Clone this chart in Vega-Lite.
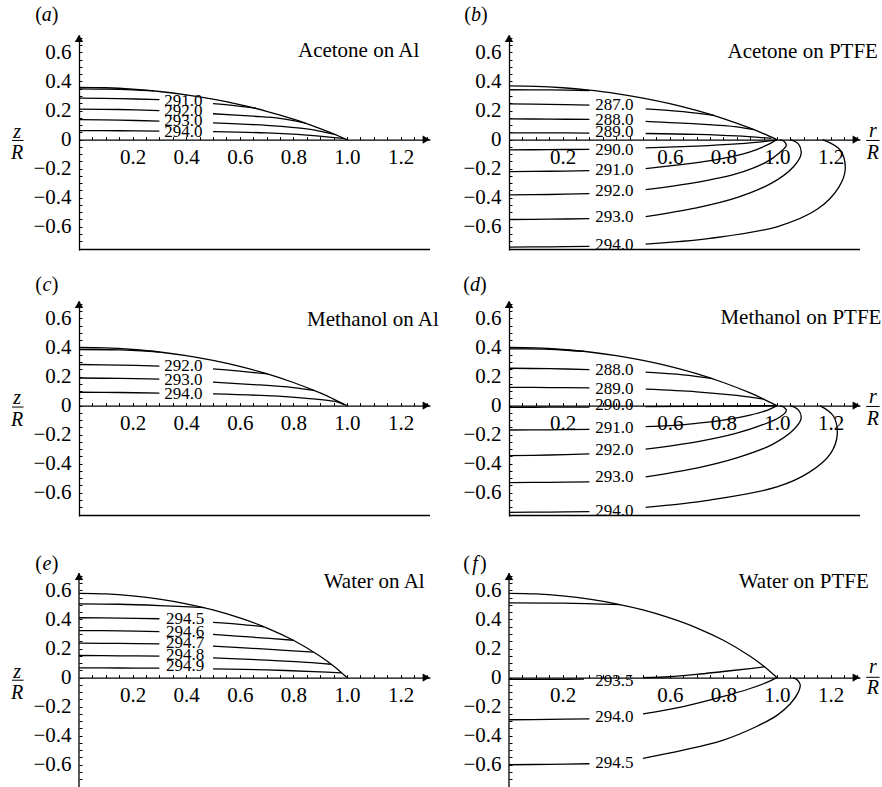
{
"$schema": "https://vega.github.io/schema/vega-lite/v6.json",
"padding": {"left": 10, "top": 5, "right": 0, "bottom": 0},
"config": {
 "view": {"stroke": null},
 "axis": {"domainColor": "black", "domainWidth": 1.3, "tickColor": "black", "tickWidth": 1, "tickSize": -3, "labelFont": "Liberation Serif", "labelFontSize": 21, "labelColor": "black", "grid": false, "labelOverlap": false, "labelBound": false, "labelFlush": false},
 "text": {"font": "Liberation Serif", "color": "black"}
},
"datasets": {
"lines": [
{"p":"a","c":"s","i":0,"r":0,"z":0.36},{"p":"a","c":"s","i":1,"r":0.1,"z":0.357},{"p":"a","c":"s","i":2,"r":0.2,"z":0.347},{"p":"a","c":"s","i":3,"r":0.3,"z":0.331},{"p":"a","c":"s","i":4,"r":0.4,"z":0.308},{"p":"a","c":"s","i":5,"r":0.5,"z":0.278},{"p":"a","c":"s","i":6,"r":0.6,"z":0.241},{"p":"a","c":"s","i":7,"r":0.7,"z":0.195},{"p":"a","c":"s","i":8,"r":0.8,"z":0.141},{"p":"a","c":"s","i":9,"r":0.9,"z":0.076},{"p":"a","c":"s","i":10,"r":0.95,"z":0.04},{"p":"a","c":"s","i":11,"r":1,"z":0},
{"p":"a","c":"t0","i":0,"r":0,"z":0.349},{"p":"a","c":"t0","i":1,"r":0.1,"z":0.347},{"p":"a","c":"t0","i":2,"r":0.2,"z":0.342},{"p":"a","c":"t0","i":3,"r":0.28,"z":0.335},
{"p":"a","c":"291L","i":0,"r":0,"z":0.285},{"p":"a","c":"291L","i":1,"r":0.15,"z":0.282},{"p":"a","c":"291L","i":2,"r":0.3,"z":0.275},
{"p":"a","c":"291R","i":0,"r":0.5,"z":0.247},{"p":"a","c":"291R","i":1,"r":0.58,"z":0.234},{"p":"a","c":"291R","i":2,"r":0.66,"z":0.217},
{"p":"a","c":"292L","i":0,"r":0,"z":0.21},{"p":"a","c":"292L","i":1,"r":0.15,"z":0.207},{"p":"a","c":"292L","i":2,"r":0.3,"z":0.2},
{"p":"a","c":"292R","i":0,"r":0.5,"z":0.178},{"p":"a","c":"292R","i":1,"r":0.65,"z":0.161},{"p":"a","c":"292R","i":2,"r":0.75,"z":0.146},{"p":"a","c":"292R","i":3,"r":0.845,"z":0.114},
{"p":"a","c":"293L","i":0,"r":0,"z":0.138},{"p":"a","c":"293L","i":1,"r":0.15,"z":0.134},{"p":"a","c":"293L","i":2,"r":0.3,"z":0.127},
{"p":"a","c":"293R","i":0,"r":0.5,"z":0.115},{"p":"a","c":"293R","i":1,"r":0.7,"z":0.098},{"p":"a","c":"293R","i":2,"r":0.85,"z":0.074},{"p":"a","c":"293R","i":3,"r":0.95,"z":0.038},
{"p":"a","c":"294L","i":0,"r":0,"z":0.062},{"p":"a","c":"294L","i":1,"r":0.15,"z":0.061},{"p":"a","c":"294L","i":2,"r":0.3,"z":0.058},
{"p":"a","c":"294R","i":0,"r":0.5,"z":0.055},{"p":"a","c":"294R","i":1,"r":0.7,"z":0.046},{"p":"a","c":"294R","i":2,"r":0.85,"z":0.031},{"p":"a","c":"294R","i":3,"r":0.985,"z":0.008},

{"p":"b","c":"s","i":0,"r":0,"z":0.37},{"p":"b","c":"s","i":1,"r":0.1,"z":0.367},{"p":"b","c":"s","i":2,"r":0.2,"z":0.357},{"p":"b","c":"s","i":3,"r":0.3,"z":0.34},{"p":"b","c":"s","i":4,"r":0.4,"z":0.317},{"p":"b","c":"s","i":5,"r":0.5,"z":0.286},{"p":"b","c":"s","i":6,"r":0.6,"z":0.248},{"p":"b","c":"s","i":7,"r":0.7,"z":0.201},{"p":"b","c":"s","i":8,"r":0.8,"z":0.145},{"p":"b","c":"s","i":9,"r":0.9,"z":0.079},{"p":"b","c":"s","i":10,"r":0.95,"z":0.041},{"p":"b","c":"s","i":11,"r":1,"z":0},
{"p":"b","c":"t0","i":0,"r":0,"z":0.343},{"p":"b","c":"t0","i":1,"r":0.15,"z":0.342},{"p":"b","c":"t0","i":2,"r":0.3,"z":0.338},
{"p":"b","c":"287L","i":0,"r":0,"z":0.246},{"p":"b","c":"287L","i":1,"r":0.15,"z":0.243},{"p":"b","c":"287L","i":2,"r":0.3,"z":0.237},
{"p":"b","c":"287R","i":0,"r":0.51,"z":0.212},{"p":"b","c":"287R","i":1,"r":0.65,"z":0.192},{"p":"b","c":"287R","i":2,"r":0.765,"z":0.166},
{"p":"b","c":"288L","i":0,"r":0,"z":0.143},{"p":"b","c":"288L","i":1,"r":0.15,"z":0.141},{"p":"b","c":"288L","i":2,"r":0.3,"z":0.139},
{"p":"b","c":"288R","i":0,"r":0.51,"z":0.126},{"p":"b","c":"288R","i":1,"r":0.7,"z":0.108},{"p":"b","c":"288R","i":2,"r":0.85,"z":0.088},{"p":"b","c":"288R","i":3,"r":0.915,"z":0.068},
{"p":"b","c":"289L","i":0,"r":0,"z":0.046},{"p":"b","c":"289L","i":1,"r":0.15,"z":0.046},{"p":"b","c":"289L","i":2,"r":0.3,"z":0.045},
{"p":"b","c":"289R","i":0,"r":0.51,"z":0.042},{"p":"b","c":"289R","i":1,"r":0.7,"z":0.036},{"p":"b","c":"289R","i":2,"r":0.85,"z":0.025},{"p":"b","c":"289R","i":3,"r":0.98,"z":0.008},
{"p":"b","c":"290L","i":0,"r":0,"z":-0.071},{"p":"b","c":"290L","i":1,"r":0.15,"z":-0.069},{"p":"b","c":"290L","i":2,"r":0.3,"z":-0.067},
{"p":"b","c":"290R","i":0,"r":0.51,"z":-0.057},{"p":"b","c":"290R","i":1,"r":0.7,"z":-0.045},{"p":"b","c":"290R","i":2,"r":0.85,"z":-0.03},{"p":"b","c":"290R","i":3,"r":0.95,"z":-0.014},{"p":"b","c":"290R","i":4,"r":1,"z":0},
{"p":"b","c":"291L","i":0,"r":0,"z":-0.22},{"p":"b","c":"291L","i":1,"r":0.15,"z":-0.218},{"p":"b","c":"291L","i":2,"r":0.3,"z":-0.214},
{"p":"b","c":"291R","i":0,"r":0.51,"z":-0.2},{"p":"b","c":"291R","i":1,"r":0.65,"z":-0.17},{"p":"b","c":"291R","i":2,"r":0.77,"z":-0.14},{"p":"b","c":"291R","i":3,"r":0.9,"z":-0.085},{"p":"b","c":"291R","i":4,"r":0.96,"z":-0.04},{"p":"b","c":"291R","i":5,"r":1,"z":0},
{"p":"b","c":"292L","i":0,"r":0,"z":-0.38},{"p":"b","c":"292L","i":1,"r":0.15,"z":-0.378},{"p":"b","c":"292L","i":2,"r":0.3,"z":-0.372},
{"p":"b","c":"292R","i":0,"r":0.51,"z":-0.345},{"p":"b","c":"292R","i":1,"r":0.7,"z":-0.295},{"p":"b","c":"292R","i":2,"r":0.85,"z":-0.235},{"p":"b","c":"292R","i":3,"r":0.96,"z":-0.155},{"p":"b","c":"292R","i":4,"r":1.01,"z":-0.09},{"p":"b","c":"292R","i":5,"r":1.035,"z":-0.04},{"p":"b","c":"292R","i":6,"r":1.025,"z":-0.01},{"p":"b","c":"292R","i":7,"r":1.01,"z":0},
{"p":"b","c":"293L","i":0,"r":0,"z":-0.55},{"p":"b","c":"293L","i":1,"r":0.15,"z":-0.548},{"p":"b","c":"293L","i":2,"r":0.3,"z":-0.544},
{"p":"b","c":"293R","i":0,"r":0.51,"z":-0.53},{"p":"b","c":"293R","i":1,"r":0.7,"z":-0.47},{"p":"b","c":"293R","i":2,"r":0.85,"z":-0.4},{"p":"b","c":"293R","i":3,"r":0.98,"z":-0.3},{"p":"b","c":"293R","i":4,"r":1.06,"z":-0.19},{"p":"b","c":"293R","i":5,"r":1.09,"z":-0.1},{"p":"b","c":"293R","i":6,"r":1.08,"z":-0.03},{"p":"b","c":"293R","i":7,"r":1.05,"z":0},
{"p":"b","c":"294L","i":0,"r":0,"z":-0.74},{"p":"b","c":"294L","i":1,"r":0.15,"z":-0.738},{"p":"b","c":"294L","i":2,"r":0.3,"z":-0.735},
{"p":"b","c":"294R","i":0,"r":0.51,"z":-0.72},{"p":"b","c":"294R","i":1,"r":0.75,"z":-0.68},{"p":"b","c":"294R","i":2,"r":1,"z":-0.6},{"p":"b","c":"294R","i":3,"r":1.15,"z":-0.48},{"p":"b","c":"294R","i":4,"r":1.23,"z":-0.33},{"p":"b","c":"294R","i":5,"r":1.255,"z":-0.2},{"p":"b","c":"294R","i":6,"r":1.235,"z":-0.07},{"p":"b","c":"294R","i":7,"r":1.17,"z":0},

{"p":"c","c":"s","i":0,"r":0,"z":0.4},{"p":"c","c":"s","i":1,"r":0.1,"z":0.397},{"p":"c","c":"s","i":2,"r":0.2,"z":0.386},{"p":"c","c":"s","i":3,"r":0.3,"z":0.369},{"p":"c","c":"s","i":4,"r":0.4,"z":0.344},{"p":"c","c":"s","i":5,"r":0.5,"z":0.311},{"p":"c","c":"s","i":6,"r":0.6,"z":0.27},{"p":"c","c":"s","i":7,"r":0.7,"z":0.22},{"p":"c","c":"s","i":8,"r":0.8,"z":0.159},{"p":"c","c":"s","i":9,"r":0.9,"z":0.087},{"p":"c","c":"s","i":10,"r":0.95,"z":0.045},{"p":"c","c":"s","i":11,"r":1,"z":0},
{"p":"c","c":"t0","i":0,"r":0,"z":0.386},{"p":"c","c":"t0","i":1,"r":0.15,"z":0.383},{"p":"c","c":"t0","i":2,"r":0.3,"z":0.369},
{"p":"c","c":"292L","i":0,"r":0,"z":0.283},{"p":"c","c":"292L","i":1,"r":0.15,"z":0.279},{"p":"c","c":"292L","i":2,"r":0.3,"z":0.272},
{"p":"c","c":"292R","i":0,"r":0.5,"z":0.253},{"p":"c","c":"292R","i":1,"r":0.6,"z":0.237},{"p":"c","c":"292R","i":2,"r":0.705,"z":0.218},
{"p":"c","c":"293L","i":0,"r":0,"z":0.19},{"p":"c","c":"293L","i":1,"r":0.15,"z":0.187},{"p":"c","c":"293L","i":2,"r":0.3,"z":0.182},
{"p":"c","c":"293R","i":0,"r":0.5,"z":0.161},{"p":"c","c":"293R","i":1,"r":0.65,"z":0.145},{"p":"c","c":"293R","i":2,"r":0.8,"z":0.124},{"p":"c","c":"293R","i":3,"r":0.88,"z":0.103},
{"p":"c","c":"294L","i":0,"r":0,"z":0.092},{"p":"c","c":"294L","i":1,"r":0.15,"z":0.09},{"p":"c","c":"294L","i":2,"r":0.3,"z":0.086},
{"p":"c","c":"294R","i":0,"r":0.5,"z":0.08},{"p":"c","c":"294R","i":1,"r":0.7,"z":0.068},{"p":"c","c":"294R","i":2,"r":0.85,"z":0.05},{"p":"c","c":"294R","i":3,"r":0.96,"z":0.027},{"p":"c","c":"294R","i":4,"r":0.99,"z":0.006},

{"p":"d","c":"s","i":0,"r":0,"z":0.4},{"p":"d","c":"s","i":1,"r":0.1,"z":0.397},{"p":"d","c":"s","i":2,"r":0.2,"z":0.386},{"p":"d","c":"s","i":3,"r":0.3,"z":0.369},{"p":"d","c":"s","i":4,"r":0.4,"z":0.344},{"p":"d","c":"s","i":5,"r":0.5,"z":0.311},{"p":"d","c":"s","i":6,"r":0.6,"z":0.27},{"p":"d","c":"s","i":7,"r":0.7,"z":0.22},{"p":"d","c":"s","i":8,"r":0.8,"z":0.159},{"p":"d","c":"s","i":9,"r":0.9,"z":0.087},{"p":"d","c":"s","i":10,"r":0.95,"z":0.045},{"p":"d","c":"s","i":11,"r":1,"z":0},
{"p":"d","c":"t0","i":0,"r":0,"z":0.39},{"p":"d","c":"t0","i":1,"r":0.15,"z":0.388},{"p":"d","c":"t0","i":2,"r":0.28,"z":0.373},
{"p":"d","c":"288L","i":0,"r":0,"z":0.257},{"p":"d","c":"288L","i":1,"r":0.15,"z":0.254},{"p":"d","c":"288L","i":2,"r":0.3,"z":0.248},
{"p":"d","c":"288R","i":0,"r":0.51,"z":0.23},{"p":"d","c":"288R","i":1,"r":0.65,"z":0.212},{"p":"d","c":"288R","i":2,"r":0.76,"z":0.186},
{"p":"d","c":"289L","i":0,"r":0,"z":0.126},{"p":"d","c":"289L","i":1,"r":0.15,"z":0.124},{"p":"d","c":"289L","i":2,"r":0.3,"z":0.122},
{"p":"d","c":"289R","i":0,"r":0.51,"z":0.113},{"p":"d","c":"289R","i":1,"r":0.7,"z":0.095},{"p":"d","c":"289R","i":2,"r":0.85,"z":0.07},{"p":"d","c":"289R","i":3,"r":0.95,"z":0.045},
{"p":"d","c":"290L","i":0,"r":0,"z":-0.012},{"p":"d","c":"290L","i":1,"r":0.15,"z":-0.011},{"p":"d","c":"290L","i":2,"r":0.3,"z":-0.01},
{"p":"d","c":"290R","i":0,"r":0.51,"z":-0.007},{"p":"d","c":"290R","i":1,"r":0.8,"z":-0.004},{"p":"d","c":"290R","i":2,"r":1,"z":0},
{"p":"d","c":"291L","i":0,"r":0,"z":-0.168},{"p":"d","c":"291L","i":1,"r":0.15,"z":-0.167},{"p":"d","c":"291L","i":2,"r":0.3,"z":-0.164},
{"p":"d","c":"291R","i":0,"r":0.51,"z":-0.145},{"p":"d","c":"291R","i":1,"r":0.6,"z":-0.138},{"p":"d","c":"291R","i":2,"r":0.7,"z":-0.122},{"p":"d","c":"291R","i":3,"r":0.8,"z":-0.1},{"p":"d","c":"291R","i":4,"r":0.9,"z":-0.065},{"p":"d","c":"291R","i":5,"r":0.96,"z":-0.035},{"p":"d","c":"291R","i":6,"r":1,"z":0},
{"p":"d","c":"292L","i":0,"r":0,"z":-0.345},{"p":"d","c":"292L","i":1,"r":0.15,"z":-0.34},{"p":"d","c":"292L","i":2,"r":0.3,"z":-0.333},
{"p":"d","c":"292R","i":0,"r":0.51,"z":-0.3},{"p":"d","c":"292R","i":1,"r":0.7,"z":-0.25},{"p":"d","c":"292R","i":2,"r":0.85,"z":-0.19},{"p":"d","c":"292R","i":3,"r":0.95,"z":-0.13},{"p":"d","c":"292R","i":4,"r":1.01,"z":-0.08},{"p":"d","c":"292R","i":5,"r":1.035,"z":-0.035},{"p":"d","c":"292R","i":6,"r":1.025,"z":-0.01},{"p":"d","c":"292R","i":7,"r":1.01,"z":0},
{"p":"d","c":"293L","i":0,"r":0,"z":-0.53},{"p":"d","c":"293L","i":1,"r":0.15,"z":-0.528},{"p":"d","c":"293L","i":2,"r":0.3,"z":-0.525},
{"p":"d","c":"293R","i":0,"r":0.51,"z":-0.49},{"p":"d","c":"293R","i":1,"r":0.7,"z":-0.43},{"p":"d","c":"293R","i":2,"r":0.85,"z":-0.36},{"p":"d","c":"293R","i":3,"r":0.98,"z":-0.27},{"p":"d","c":"293R","i":4,"r":1.06,"z":-0.17},{"p":"d","c":"293R","i":5,"r":1.09,"z":-0.09},{"p":"d","c":"293R","i":6,"r":1.08,"z":-0.03},{"p":"d","c":"293R","i":7,"r":1.05,"z":0},
{"p":"d","c":"294L","i":0,"r":0,"z":-0.735},{"p":"d","c":"294L","i":1,"r":0.15,"z":-0.733},{"p":"d","c":"294L","i":2,"r":0.3,"z":-0.73},
{"p":"d","c":"294R","i":0,"r":0.51,"z":-0.7},{"p":"d","c":"294R","i":1,"r":0.75,"z":-0.65},{"p":"d","c":"294R","i":2,"r":1,"z":-0.56},{"p":"d","c":"294R","i":3,"r":1.12,"z":-0.46},{"p":"d","c":"294R","i":4,"r":1.2,"z":-0.33},{"p":"d","c":"294R","i":5,"r":1.225,"z":-0.2},{"p":"d","c":"294R","i":6,"r":1.21,"z":-0.07},{"p":"d","c":"294R","i":7,"r":1.16,"z":0},

{"p":"e","c":"s","i":0,"r":0,"z":0.58},{"p":"e","c":"s","i":1,"r":0.1,"z":0.576},{"p":"e","c":"s","i":2,"r":0.2,"z":0.562},{"p":"e","c":"s","i":3,"r":0.3,"z":0.54},{"p":"e","c":"s","i":4,"r":0.4,"z":0.508},{"p":"e","c":"s","i":5,"r":0.5,"z":0.466},{"p":"e","c":"s","i":6,"r":0.6,"z":0.411},{"p":"e","c":"s","i":7,"r":0.7,"z":0.343},{"p":"e","c":"s","i":8,"r":0.8,"z":0.257},{"p":"e","c":"s","i":9,"r":0.9,"z":0.147},{"p":"e","c":"s","i":10,"r":0.95,"z":0.08},{"p":"e","c":"s","i":11,"r":1,"z":0},
{"p":"e","c":"t0","i":0,"r":0,"z":0.508},{"p":"e","c":"t0","i":1,"r":0.15,"z":0.505},{"p":"e","c":"t0","i":2,"r":0.3,"z":0.496},{"p":"e","c":"t0","i":3,"r":0.47,"z":0.482},
{"p":"e","c":"5L","i":0,"r":0,"z":0.412},{"p":"e","c":"5L","i":1,"r":0.15,"z":0.41},{"p":"e","c":"5L","i":2,"r":0.3,"z":0.405},
{"p":"e","c":"5R","i":0,"r":0.5,"z":0.38},{"p":"e","c":"5R","i":1,"r":0.6,"z":0.367},{"p":"e","c":"5R","i":2,"r":0.69,"z":0.35},
{"p":"e","c":"6L","i":0,"r":0,"z":0.324},{"p":"e","c":"6L","i":1,"r":0.15,"z":0.322},{"p":"e","c":"6L","i":2,"r":0.3,"z":0.317},
{"p":"e","c":"6R","i":0,"r":0.5,"z":0.297},{"p":"e","c":"6R","i":1,"r":0.65,"z":0.278},{"p":"e","c":"6R","i":2,"r":0.8,"z":0.257},
{"p":"e","c":"7L","i":0,"r":0,"z":0.237},{"p":"e","c":"7L","i":1,"r":0.15,"z":0.235},{"p":"e","c":"7L","i":2,"r":0.3,"z":0.232},
{"p":"e","c":"7R","i":0,"r":0.5,"z":0.216},{"p":"e","c":"7R","i":1,"r":0.7,"z":0.196},{"p":"e","c":"7R","i":2,"r":0.875,"z":0.175},
{"p":"e","c":"8L","i":0,"r":0,"z":0.152},{"p":"e","c":"8L","i":1,"r":0.15,"z":0.15},{"p":"e","c":"8L","i":2,"r":0.3,"z":0.148},
{"p":"e","c":"8R","i":0,"r":0.5,"z":0.136},{"p":"e","c":"8R","i":1,"r":0.7,"z":0.12},{"p":"e","c":"8R","i":2,"r":0.85,"z":0.105},{"p":"e","c":"8R","i":3,"r":0.94,"z":0.092},
{"p":"e","c":"9L","i":0,"r":0,"z":0.067},{"p":"e","c":"9L","i":1,"r":0.15,"z":0.066},{"p":"e","c":"9L","i":2,"r":0.3,"z":0.065},
{"p":"e","c":"9R","i":0,"r":0.5,"z":0.06},{"p":"e","c":"9R","i":1,"r":0.7,"z":0.053},{"p":"e","c":"9R","i":2,"r":0.9,"z":0.04},{"p":"e","c":"9R","i":3,"r":0.98,"z":0.033},

{"p":"f","c":"s","i":0,"r":0,"z":0.58},{"p":"f","c":"s","i":1,"r":0.1,"z":0.576},{"p":"f","c":"s","i":2,"r":0.2,"z":0.562},{"p":"f","c":"s","i":3,"r":0.3,"z":0.54},{"p":"f","c":"s","i":4,"r":0.4,"z":0.508},{"p":"f","c":"s","i":5,"r":0.5,"z":0.466},{"p":"f","c":"s","i":6,"r":0.6,"z":0.411},{"p":"f","c":"s","i":7,"r":0.7,"z":0.343},{"p":"f","c":"s","i":8,"r":0.8,"z":0.257},{"p":"f","c":"s","i":9,"r":0.9,"z":0.147},{"p":"f","c":"s","i":10,"r":0.95,"z":0.08},{"p":"f","c":"s","i":11,"r":1,"z":0},
{"p":"f","c":"t0","i":0,"r":0,"z":0.515},{"p":"f","c":"t0","i":1,"r":0.2,"z":0.513},{"p":"f","c":"t0","i":2,"r":0.415,"z":0.502},
{"p":"f","c":"35L","i":0,"r":0,"z":-0.012},{"p":"f","c":"35L","i":1,"r":0.15,"z":-0.012},{"p":"f","c":"35L","i":2,"r":0.28,"z":-0.011},
{"p":"f","c":"35R","i":0,"r":0.5,"z":0},{"p":"f","c":"35R","i":1,"r":0.6,"z":0.006},{"p":"f","c":"35R","i":2,"r":0.7,"z":0.022},{"p":"f","c":"35R","i":3,"r":0.8,"z":0.042},{"p":"f","c":"35R","i":4,"r":0.9,"z":0.062},{"p":"f","c":"35R","i":5,"r":0.955,"z":0.075},
{"p":"f","c":"40L","i":0,"r":0,"z":-0.29},{"p":"f","c":"40L","i":1,"r":0.15,"z":-0.288},{"p":"f","c":"40L","i":2,"r":0.3,"z":-0.284},
{"p":"f","c":"40R","i":0,"r":0.5,"z":-0.25},{"p":"f","c":"40R","i":1,"r":0.65,"z":-0.2},{"p":"f","c":"40R","i":2,"r":0.8,"z":-0.13},{"p":"f","c":"40R","i":3,"r":0.9,"z":-0.075},{"p":"f","c":"40R","i":4,"r":0.96,"z":-0.035},{"p":"f","c":"40R","i":5,"r":1,"z":0},
{"p":"f","c":"45L","i":0,"r":0,"z":-0.6},{"p":"f","c":"45L","i":1,"r":0.15,"z":-0.597},{"p":"f","c":"45L","i":2,"r":0.3,"z":-0.593},
{"p":"f","c":"45R","i":0,"r":0.5,"z":-0.556},{"p":"f","c":"45R","i":1,"r":0.65,"z":-0.5},{"p":"f","c":"45R","i":2,"r":0.8,"z":-0.43},{"p":"f","c":"45R","i":3,"r":0.92,"z":-0.34},{"p":"f","c":"45R","i":4,"r":1,"z":-0.26},{"p":"f","c":"45R","i":5,"r":1.05,"z":-0.18},{"p":"f","c":"45R","i":6,"r":1.08,"z":-0.1},{"p":"f","c":"45R","i":7,"r":1.087,"z":-0.05},{"p":"f","c":"45R","i":8,"r":1.075,"z":-0.015},{"p":"f","c":"45R","i":9,"r":1.06,"z":0}
],
"labs": [
{"p":"a","r":0.39,"z":0.268,"t":"291.0"},{"p":"a","r":0.39,"z":0.198,"t":"292.0"},{"p":"a","r":0.39,"z":0.126,"t":"293.0"},{"p":"a","r":0.39,"z":0.05,"t":"294.0"},
{"p":"b","r":0.393,"z":0.241,"t":"287.0"},{"p":"b","r":0.393,"z":0.138,"t":"288.0"},{"p":"b","r":0.393,"z":0.05,"t":"289.0"},{"p":"b","r":0.393,"z":-0.069,"t":"290.0"},{"p":"b","r":0.393,"z":-0.207,"t":"291.0"},{"p":"b","r":0.393,"z":-0.356,"t":"292.0"},{"p":"b","r":0.393,"z":-0.536,"t":"293.0"},{"p":"b","r":0.393,"z":-0.724,"t":"294.0"},
{"p":"c","r":0.39,"z":0.276,"t":"292.0"},{"p":"c","r":0.39,"z":0.179,"t":"293.0"},{"p":"c","r":0.39,"z":0.082,"t":"294.0"},
{"p":"d","r":0.393,"z":0.248,"t":"288.0"},{"p":"d","r":0.393,"z":0.117,"t":"289.0"},{"p":"d","r":0.393,"z":0.005,"t":"290.0"},{"p":"d","r":0.393,"z":-0.154,"t":"291.0"},{"p":"d","r":0.393,"z":-0.303,"t":"292.0"},{"p":"d","r":0.393,"z":-0.494,"t":"293.0"},{"p":"d","r":0.393,"z":-0.725,"t":"294.0"},
{"p":"e","r":0.396,"z":0.402,"t":"294.5"},{"p":"e","r":0.396,"z":0.317,"t":"294.6"},{"p":"e","r":0.396,"z":0.235,"t":"294.7"},{"p":"e","r":0.396,"z":0.157,"t":"294.8"},{"p":"e","r":0.396,"z":0.078,"t":"294.9"},
{"p":"f","r":0.393,"z":-0.022,"t":"293.5"},{"p":"f","r":0.393,"z":-0.272,"t":"294.0"},{"p":"f","r":0.393,"z":-0.585,"t":"294.5"}
]
},
"columns": 2,
"bounds": "flush",
"spacing": {"row": 51, "column": 79},
"concat": [
 {"width": 351, "height": 215,
  "encoding": {
   "x": {"field": "r", "type": "quantitative", "scale": {"domain": [0, 1.31], "nice": false, "zero": false}, "axis": {"title": null, "offset": -110.4, "labelPadding": 10, "values": [0.05,0.1,0.15,0.2,0.25,0.3,0.35,0.4,0.45,0.5,0.55,0.6,0.65,0.7,0.75,0.8,0.85,0.9,0.95,1,1.05,1.1,1.15,1.2,1.25,1.3], "labelExpr": "abs(datum.value*5-round(datum.value*5))<0.01 ? format(datum.value,'.1f') : ''"}},
   "y": {"field": "z", "type": "quantitative", "scale": {"domain": [-0.76, 0.72], "nice": false, "zero": false}, "axis": {"title": null, "labelPadding": 11, "values": [-0.75,-0.7,-0.65,-0.6,-0.55,-0.5,-0.45,-0.4,-0.35,-0.3,-0.25,-0.2,-0.15,-0.1,-0.05,0,0.05,0.1,0.15,0.2,0.25,0.3,0.35,0.4,0.45,0.5,0.55,0.6,0.65,0.7], "labelExpr": "abs(datum.value)<0.001 ? '0' : (abs(datum.value*5-round(datum.value*5))<0.01 ? format(datum.value,'.1f') : '')"}}
  },
  "layer": [
   {"data": {"name": "lines"}, "transform": [{"filter": "datum.p == 'a'"}], "mark": {"type": "line", "color": "black", "strokeWidth": 1.3, "interpolate": "catmull-rom"}, "encoding": {"detail": {"field": "c"}, "order": {"field": "i", "type": "quantitative"}}},
   {"data": {"name": "labs"}, "transform": [{"filter": "datum.p == 'a'"}], "mark": {"type": "text", "fontSize": 17}, "encoding": {"text": {"field": "t"}}},
   {"data": {"values": [{"r": 0, "r2": 1.31, "z": -0.757}]}, "mark": {"type": "rule", "color": "black", "strokeWidth": 1.5}, "encoding": {"x2": {"field": "r2"}}},
   {"data": {"values": [{"r": 1.296, "z": 0}]}, "mark": {"type": "point", "shape": "triangle-right", "filled": true, "color": "black", "opacity": 1, "size": 70}},
   {"data": {"values": [{"r": 0, "z": 0.697}]}, "mark": {"type": "point", "shape": "triangle-up", "filled": true, "color": "black", "opacity": 1, "size": 70}},
   {"data": {"values": [{"r": 1.27, "z": 0.61}]}, "mark": {"type": "text", "align": "right", "fontSize": 21}, "encoding": {"text": {"value": "Acetone on Al"}}},
   {"data": {"values": [{"r": -0.12, "z": 0.855}]}, "mark": {"type": "text", "fontSize": 20, "fontStyle": "italic"}, "encoding": {"text": {"value": "a"}}},
   {"data": {"values": [{"r": -0.12, "z": 0.855}]}, "mark": {"type": "text", "fontSize": 20, "align": "right", "dx": -5}, "encoding": {"text": {"value": "("}}},
   {"data": {"values": [{"r": -0.12, "z": 0.855}]}, "mark": {"type": "text", "fontSize": 20, "align": "left", "dx": 5}, "encoding": {"text": {"value": ")"}}},
   {"data": {"values": [{"r": -0.231, "z": 0.055}]}, "mark": {"type": "text", "fontSize": 20, "fontStyle": "italic"}, "encoding": {"text": {"value": "z"}}},
   {"data": {"values": [{"r": -0.231, "z": -0.09}]}, "mark": {"type": "text", "fontSize": 20, "fontStyle": "italic"}, "encoding": {"text": {"value": "R"}}},
   {"data": {"values": [{"r": -0.25, "r2": -0.207, "z": -0.006}]}, "mark": {"type": "rule", "color": "black", "strokeWidth": 1}, "encoding": {"x2": {"field": "r2"}}}
  ]
 },
 {"width": 351, "height": 215,
  "encoding": {
   "x": {"field": "r", "type": "quantitative", "scale": {"domain": [0, 1.31], "nice": false, "zero": false}, "axis": {"title": null, "offset": -110.4, "labelPadding": 10, "values": [0.05,0.1,0.15,0.2,0.25,0.3,0.35,0.4,0.45,0.5,0.55,0.6,0.65,0.7,0.75,0.8,0.85,0.9,0.95,1,1.05,1.1,1.15,1.2,1.25,1.3], "labelExpr": "abs(datum.value*5-round(datum.value*5))<0.01 && abs(datum.value-0.4)>0.01 ? format(datum.value,'.1f') : ''"}},
   "y": {"field": "z", "type": "quantitative", "scale": {"domain": [-0.76, 0.72], "nice": false, "zero": false}, "axis": {"title": null, "labelPadding": 11, "values": [-0.75,-0.7,-0.65,-0.6,-0.55,-0.5,-0.45,-0.4,-0.35,-0.3,-0.25,-0.2,-0.15,-0.1,-0.05,0,0.05,0.1,0.15,0.2,0.25,0.3,0.35,0.4,0.45,0.5,0.55,0.6,0.65,0.7], "labelExpr": "abs(datum.value)<0.001 ? '0' : (abs(datum.value*5-round(datum.value*5))<0.01 ? format(datum.value,'.1f') : '')"}}
  },
  "layer": [
   {"data": {"name": "lines"}, "transform": [{"filter": "datum.p == 'b'"}], "mark": {"type": "line", "color": "black", "strokeWidth": 1.3, "interpolate": "catmull-rom"}, "encoding": {"detail": {"field": "c"}, "order": {"field": "i", "type": "quantitative"}}},
   {"data": {"name": "labs"}, "transform": [{"filter": "datum.p == 'b'"}], "mark": {"type": "text", "fontSize": 17}, "encoding": {"text": {"field": "t"}}},
   {"data": {"values": [{"r": 0, "r2": 1.31, "z": -0.757}]}, "mark": {"type": "rule", "color": "black", "strokeWidth": 1.5}, "encoding": {"x2": {"field": "r2"}}},
   {"data": {"values": [{"r": 1.296, "z": 0}]}, "mark": {"type": "point", "shape": "triangle-right", "filled": true, "color": "black", "opacity": 1, "size": 70}},
   {"data": {"values": [{"r": 0, "z": 0.697}]}, "mark": {"type": "point", "shape": "triangle-up", "filled": true, "color": "black", "opacity": 1, "size": 70}},
   {"data": {"values": [{"r": 1.377, "z": 0.6}]}, "mark": {"type": "text", "align": "right", "fontSize": 21}, "encoding": {"text": {"value": "Acetone on PTFE"}}},
   {"data": {"values": [{"r": -0.123, "z": 0.855}]}, "mark": {"type": "text", "fontSize": 20, "fontStyle": "italic"}, "encoding": {"text": {"value": "b"}}},
   {"data": {"values": [{"r": -0.123, "z": 0.855}]}, "mark": {"type": "text", "fontSize": 20, "align": "right", "dx": -5}, "encoding": {"text": {"value": "("}}},
   {"data": {"values": [{"r": -0.123, "z": 0.855}]}, "mark": {"type": "text", "fontSize": 20, "align": "left", "dx": 5}, "encoding": {"text": {"value": ")"}}},
   {"data": {"values": [{"r": 1.358, "z": 0.06}]}, "mark": {"type": "text", "fontSize": 20, "fontStyle": "italic"}, "encoding": {"text": {"value": "r"}}},
   {"data": {"values": [{"r": 1.358, "z": -0.09}]}, "mark": {"type": "text", "fontSize": 20, "fontStyle": "italic"}, "encoding": {"text": {"value": "R"}}},
   {"data": {"values": [{"r": 1.333, "r2": 1.383, "z": -0.006}]}, "mark": {"type": "rule", "color": "black", "strokeWidth": 1}, "encoding": {"x2": {"field": "r2"}}}
  ]
 },
 {"width": 351, "height": 215,
  "encoding": {
   "x": {"field": "r", "type": "quantitative", "scale": {"domain": [0, 1.31], "nice": false, "zero": false}, "axis": {"title": null, "offset": -110.4, "labelPadding": 10, "values": [0.05,0.1,0.15,0.2,0.25,0.3,0.35,0.4,0.45,0.5,0.55,0.6,0.65,0.7,0.75,0.8,0.85,0.9,0.95,1,1.05,1.1,1.15,1.2,1.25,1.3], "labelExpr": "abs(datum.value*5-round(datum.value*5))<0.01 ? format(datum.value,'.1f') : ''"}},
   "y": {"field": "z", "type": "quantitative", "scale": {"domain": [-0.76, 0.72], "nice": false, "zero": false}, "axis": {"title": null, "labelPadding": 11, "values": [-0.75,-0.7,-0.65,-0.6,-0.55,-0.5,-0.45,-0.4,-0.35,-0.3,-0.25,-0.2,-0.15,-0.1,-0.05,0,0.05,0.1,0.15,0.2,0.25,0.3,0.35,0.4,0.45,0.5,0.55,0.6,0.65,0.7], "labelExpr": "abs(datum.value)<0.001 ? '0' : (abs(datum.value*5-round(datum.value*5))<0.01 ? format(datum.value,'.1f') : '')"}}
  },
  "layer": [
   {"data": {"name": "lines"}, "transform": [{"filter": "datum.p == 'c'"}], "mark": {"type": "line", "color": "black", "strokeWidth": 1.3, "interpolate": "catmull-rom"}, "encoding": {"detail": {"field": "c"}, "order": {"field": "i", "type": "quantitative"}}},
   {"data": {"name": "labs"}, "transform": [{"filter": "datum.p == 'c'"}], "mark": {"type": "text", "fontSize": 17}, "encoding": {"text": {"field": "t"}}},
   {"data": {"values": [{"r": 0, "r2": 1.31, "z": -0.757}]}, "mark": {"type": "rule", "color": "black", "strokeWidth": 1.5}, "encoding": {"x2": {"field": "r2"}}},
   {"data": {"values": [{"r": 1.296, "z": 0}]}, "mark": {"type": "point", "shape": "triangle-right", "filled": true, "color": "black", "opacity": 1, "size": 70}},
   {"data": {"values": [{"r": 0, "z": 0.697}]}, "mark": {"type": "point", "shape": "triangle-up", "filled": true, "color": "black", "opacity": 1, "size": 70}},
   {"data": {"values": [{"r": 1.343, "z": 0.586}]}, "mark": {"type": "text", "align": "right", "fontSize": 21}, "encoding": {"text": {"value": "Methanol on Al"}}},
   {"data": {"values": [{"r": -0.12, "z": 0.83}]}, "mark": {"type": "text", "fontSize": 20, "fontStyle": "italic"}, "encoding": {"text": {"value": "c"}}},
   {"data": {"values": [{"r": -0.12, "z": 0.83}]}, "mark": {"type": "text", "fontSize": 20, "align": "right", "dx": -5}, "encoding": {"text": {"value": "("}}},
   {"data": {"values": [{"r": -0.12, "z": 0.83}]}, "mark": {"type": "text", "fontSize": 20, "align": "left", "dx": 5}, "encoding": {"text": {"value": ")"}}},
   {"data": {"values": [{"r": -0.231, "z": 0.05}]}, "mark": {"type": "text", "fontSize": 20, "fontStyle": "italic"}, "encoding": {"text": {"value": "z"}}},
   {"data": {"values": [{"r": -0.231, "z": -0.1}]}, "mark": {"type": "text", "fontSize": 20, "fontStyle": "italic"}, "encoding": {"text": {"value": "R"}}},
   {"data": {"values": [{"r": -0.25, "r2": -0.207, "z": -0.01}]}, "mark": {"type": "rule", "color": "black", "strokeWidth": 1}, "encoding": {"x2": {"field": "r2"}}}
  ]
 },
 {"width": 351, "height": 215,
  "encoding": {
   "x": {"field": "r", "type": "quantitative", "scale": {"domain": [0, 1.31], "nice": false, "zero": false}, "axis": {"title": null, "offset": -110.4, "labelPadding": 10, "values": [0.05,0.1,0.15,0.2,0.25,0.3,0.35,0.4,0.45,0.5,0.55,0.6,0.65,0.7,0.75,0.8,0.85,0.9,0.95,1,1.05,1.1,1.15,1.2,1.25,1.3], "labelExpr": "abs(datum.value*5-round(datum.value*5))<0.01 && abs(datum.value-0.4)>0.01 ? format(datum.value,'.1f') : ''"}},
   "y": {"field": "z", "type": "quantitative", "scale": {"domain": [-0.76, 0.72], "nice": false, "zero": false}, "axis": {"title": null, "labelPadding": 11, "values": [-0.75,-0.7,-0.65,-0.6,-0.55,-0.5,-0.45,-0.4,-0.35,-0.3,-0.25,-0.2,-0.15,-0.1,-0.05,0,0.05,0.1,0.15,0.2,0.25,0.3,0.35,0.4,0.45,0.5,0.55,0.6,0.65,0.7], "labelExpr": "abs(datum.value)<0.001 ? '0' : (abs(datum.value*5-round(datum.value*5))<0.01 ? format(datum.value,'.1f') : '')"}}
  },
  "layer": [
   {"data": {"name": "lines"}, "transform": [{"filter": "datum.p == 'd'"}], "mark": {"type": "line", "color": "black", "strokeWidth": 1.3, "interpolate": "catmull-rom"}, "encoding": {"detail": {"field": "c"}, "order": {"field": "i", "type": "quantitative"}}},
   {"data": {"name": "labs"}, "transform": [{"filter": "datum.p == 'd'"}], "mark": {"type": "text", "fontSize": 17}, "encoding": {"text": {"field": "t"}}},
   {"data": {"values": [{"r": 0, "r2": 1.31, "z": -0.757}]}, "mark": {"type": "rule", "color": "black", "strokeWidth": 1.5}, "encoding": {"x2": {"field": "r2"}}},
   {"data": {"values": [{"r": 1.296, "z": 0}]}, "mark": {"type": "point", "shape": "triangle-right", "filled": true, "color": "black", "opacity": 1, "size": 70}},
   {"data": {"values": [{"r": 0, "z": 0.697}]}, "mark": {"type": "point", "shape": "triangle-up", "filled": true, "color": "black", "opacity": 1, "size": 70}},
   {"data": {"values": [{"r": 1.39, "z": 0.6}]}, "mark": {"type": "text", "align": "right", "fontSize": 21}, "encoding": {"text": {"value": "Methanol on PTFE"}}},
   {"data": {"values": [{"r": -0.127, "z": 0.83}]}, "mark": {"type": "text", "fontSize": 20, "fontStyle": "italic"}, "encoding": {"text": {"value": "d"}}},
   {"data": {"values": [{"r": -0.127, "z": 0.83}]}, "mark": {"type": "text", "fontSize": 20, "align": "right", "dx": -5}, "encoding": {"text": {"value": "("}}},
   {"data": {"values": [{"r": -0.127, "z": 0.83}]}, "mark": {"type": "text", "fontSize": 20, "align": "left", "dx": 5}, "encoding": {"text": {"value": ")"}}},
   {"data": {"values": [{"r": 1.358, "z": 0.06}]}, "mark": {"type": "text", "fontSize": 20, "fontStyle": "italic"}, "encoding": {"text": {"value": "r"}}},
   {"data": {"values": [{"r": 1.358, "z": -0.09}]}, "mark": {"type": "text", "fontSize": 20, "fontStyle": "italic"}, "encoding": {"text": {"value": "R"}}},
   {"data": {"values": [{"r": 1.333, "r2": 1.383, "z": -0.006}]}, "mark": {"type": "rule", "color": "black", "strokeWidth": 1}, "encoding": {"x2": {"field": "r2"}}}
  ]
 },
 {"width": 351, "height": 221,
  "encoding": {
   "x": {"field": "r", "type": "quantitative", "scale": {"domain": [0, 1.31], "nice": false, "zero": false}, "axis": {"title": null, "offset": -110.4, "labelPadding": 10, "values": [0.05,0.1,0.15,0.2,0.25,0.3,0.35,0.4,0.45,0.5,0.55,0.6,0.65,0.7,0.75,0.8,0.85,0.9,0.95,1,1.05,1.1,1.15,1.2,1.25,1.3], "labelExpr": "abs(datum.value*5-round(datum.value*5))<0.01 ? format(datum.value,'.1f') : ''"}},
   "y": {"field": "z", "type": "quantitative", "scale": {"domain": [-0.76, 0.7614], "nice": false, "zero": false}, "axis": {"title": null, "domain": false, "labelPadding": 11, "values": [-0.75,-0.7,-0.65,-0.6,-0.55,-0.5,-0.45,-0.4,-0.35,-0.3,-0.25,-0.2,-0.15,-0.1,-0.05,0,0.05,0.1,0.15,0.2,0.25,0.3,0.35,0.4,0.45,0.5,0.55,0.6,0.65,0.7], "labelExpr": "abs(datum.value)<0.001 ? '0' : (abs(datum.value*5-round(datum.value*5))<0.01 ? format(datum.value,'.1f') : '')"}}
  },
  "layer": [
   {"data": {"name": "lines"}, "transform": [{"filter": "datum.p == 'e'"}], "mark": {"type": "line", "color": "black", "strokeWidth": 1.3, "interpolate": "catmull-rom"}, "encoding": {"detail": {"field": "c"}, "order": {"field": "i", "type": "quantitative"}}},
   {"data": {"name": "labs"}, "transform": [{"filter": "datum.p == 'e'"}], "mark": {"type": "text", "fontSize": 17}, "encoding": {"text": {"field": "t"}}},
   {"data": {"values": [{"r": 0, "z": -0.76, "z2": 0.72}]}, "mark": {"type": "rule", "color": "black", "strokeWidth": 1.3}, "encoding": {"y2": {"field": "z2"}}},
   {"data": {"values": [{"r": 1.296, "z": 0}]}, "mark": {"type": "point", "shape": "triangle-right", "filled": true, "color": "black", "opacity": 1, "size": 70}},
   {"data": {"values": [{"r": 0, "z": 0.697}]}, "mark": {"type": "point", "shape": "triangle-up", "filled": true, "color": "black", "opacity": 1, "size": 70}},
   {"data": {"values": [{"r": 1.29, "z": 0.657}]}, "mark": {"type": "text", "align": "right", "fontSize": 21}, "encoding": {"text": {"value": "Water on Al"}}},
   {"data": {"values": [{"r": -0.12, "z": 0.78}]}, "mark": {"type": "text", "fontSize": 20, "fontStyle": "italic"}, "encoding": {"text": {"value": "e"}}},
   {"data": {"values": [{"r": -0.12, "z": 0.78}]}, "mark": {"type": "text", "fontSize": 20, "align": "right", "dx": -5}, "encoding": {"text": {"value": "("}}},
   {"data": {"values": [{"r": -0.12, "z": 0.78}]}, "mark": {"type": "text", "fontSize": 20, "align": "left", "dx": 5}, "encoding": {"text": {"value": ")"}}},
   {"data": {"values": [{"r": -0.231, "z": 0.04}]}, "mark": {"type": "text", "fontSize": 20, "fontStyle": "italic"}, "encoding": {"text": {"value": "z"}}},
   {"data": {"values": [{"r": -0.231, "z": -0.105}]}, "mark": {"type": "text", "fontSize": 20, "fontStyle": "italic"}, "encoding": {"text": {"value": "R"}}},
   {"data": {"values": [{"r": -0.25, "r2": -0.207, "z": -0.018}]}, "mark": {"type": "rule", "color": "black", "strokeWidth": 1}, "encoding": {"x2": {"field": "r2"}}}
  ]
 },
 {"width": 351, "height": 221,
  "encoding": {
   "x": {"field": "r", "type": "quantitative", "scale": {"domain": [0, 1.31], "nice": false, "zero": false}, "axis": {"title": null, "offset": -110.4, "labelPadding": 10, "values": [0.05,0.1,0.15,0.2,0.25,0.3,0.35,0.4,0.45,0.5,0.55,0.6,0.65,0.7,0.75,0.8,0.85,0.9,0.95,1,1.05,1.1,1.15,1.2,1.25,1.3], "labelExpr": "abs(datum.value*5-round(datum.value*5))<0.01 && abs(datum.value-0.4)>0.01 ? format(datum.value,'.1f') : ''"}},
   "y": {"field": "z", "type": "quantitative", "scale": {"domain": [-0.76, 0.7614], "nice": false, "zero": false}, "axis": {"title": null, "domain": false, "labelPadding": 11, "values": [-0.75,-0.7,-0.65,-0.6,-0.55,-0.5,-0.45,-0.4,-0.35,-0.3,-0.25,-0.2,-0.15,-0.1,-0.05,0,0.05,0.1,0.15,0.2,0.25,0.3,0.35,0.4,0.45,0.5,0.55,0.6,0.65,0.7], "labelExpr": "abs(datum.value)<0.001 ? '0' : (abs(datum.value*5-round(datum.value*5))<0.01 ? format(datum.value,'.1f') : '')"}}
  },
  "layer": [
   {"data": {"name": "lines"}, "transform": [{"filter": "datum.p == 'f'"}], "mark": {"type": "line", "color": "black", "strokeWidth": 1.3, "interpolate": "catmull-rom"}, "encoding": {"detail": {"field": "c"}, "order": {"field": "i", "type": "quantitative"}}},
   {"data": {"name": "labs"}, "transform": [{"filter": "datum.p == 'f'"}], "mark": {"type": "text", "fontSize": 17}, "encoding": {"text": {"field": "t"}}},
   {"data": {"values": [{"r": 0, "z": -0.76, "z2": 0.72}]}, "mark": {"type": "rule", "color": "black", "strokeWidth": 1.3}, "encoding": {"y2": {"field": "z2"}}},
   {"data": {"values": [{"r": 1.296, "z": 0}]}, "mark": {"type": "point", "shape": "triangle-right", "filled": true, "color": "black", "opacity": 1, "size": 70}},
   {"data": {"values": [{"r": 0, "z": 0.697}]}, "mark": {"type": "point", "shape": "triangle-up", "filled": true, "color": "black", "opacity": 1, "size": 70}},
   {"data": {"values": [{"r": 1.343, "z": 0.657}]}, "mark": {"type": "text", "align": "right", "fontSize": 21}, "encoding": {"text": {"value": "Water on PTFE"}}},
   {"data": {"values": [{"r": -0.127, "z": 0.78}]}, "mark": {"type": "text", "fontSize": 20, "fontStyle": "italic"}, "encoding": {"text": {"value": "f"}}},
   {"data": {"values": [{"r": -0.127, "z": 0.78}]}, "mark": {"type": "text", "fontSize": 20, "align": "right", "dx": -5}, "encoding": {"text": {"value": "("}}},
   {"data": {"values": [{"r": -0.127, "z": 0.78}]}, "mark": {"type": "text", "fontSize": 20, "align": "left", "dx": 5}, "encoding": {"text": {"value": ")"}}},
   {"data": {"values": [{"r": 1.358, "z": 0.07}]}, "mark": {"type": "text", "fontSize": 20, "fontStyle": "italic"}, "encoding": {"text": {"value": "r"}}},
   {"data": {"values": [{"r": 1.358, "z": -0.075}]}, "mark": {"type": "text", "fontSize": 20, "fontStyle": "italic"}, "encoding": {"text": {"value": "R"}}},
   {"data": {"values": [{"r": 1.333, "r2": 1.383, "z": 0.002}]}, "mark": {"type": "rule", "color": "black", "strokeWidth": 1}, "encoding": {"x2": {"field": "r2"}}}
  ]
 }
]
}
